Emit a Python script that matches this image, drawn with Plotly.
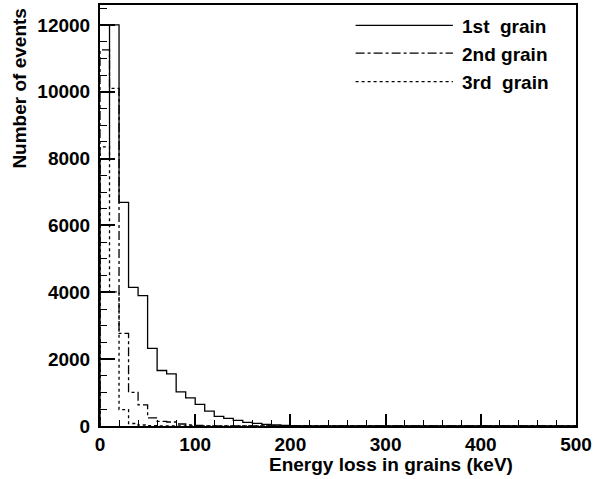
import plotly.graph_objects as go

# Histogram binning (keV)
bin_width = 10
n_bins = 50
edges = [i * bin_width for i in range(n_bins + 1)]

# Counts per 10 keV bin
grain1 = [8000, 12000, 6690, 4150, 3900, 2320, 1660, 1560, 1020, 840,
          645, 445, 290, 230, 170, 110, 80, 50, 30, 15, 8, 4]
grain2 = [11250, 10100, 2770, 1005, 630, 245, 140, 120, 60, 30, 15, 6]
grain3 = [8350, 4010, 490, 75, 30, 10]

series_names = ["1st\u00a0 grain", "2nd grain", "3rd\u00a0 grain"]
series_dash = ["solid", "dashdot", "dot"]
x_ticks = [0, 100, 200, 300, 400, 500]
y_ticks = [0, 2000, 4000, 6000, 8000, 10000, 12000]


def pad(v):
    return v + [0] * (n_bins - len(v))


def step_xy(counts):
    c = pad(counts)
    xs = [edges[0]] + edges
    ys = [0] + c + [c[-1]]
    return xs, ys


fig = go.Figure()
for vals, name, dash in zip([grain1, grain2, grain3], series_names, series_dash):
    xs, ys = step_xy(vals)
    fig.add_trace(go.Scatter(
        x=xs, y=ys, mode="lines", line_shape="hv",
        line=dict(color="black", width=1.3, dash=dash),
        name=name, showlegend=False, hoverinfo="skip"))

FONT = "Liberation Sans, Arial, Helvetica, sans-serif"
FS = 19

# manual legend (no box), ROOT style
leg_y_px = [23.5, 51.5, 80]
plot_l, plot_r, plot_t, plot_b = 99.5, 579.0, 3.0, 426.5
W, H = plot_r - plot_l, plot_b - plot_t


def px_to_paper(xp, yp):
    return (xp - plot_l) / W, (plot_b - yp) / H


for name, dash, yp in zip(series_names, series_dash, leg_y_px):
    x0, y0 = px_to_paper(357, yp)
    x1, _ = px_to_paper(455, yp)
    fig.add_shape(type="line", xref="paper", yref="paper", x0=x0, x1=x1, y0=y0, y1=y0,
                  line=dict(color="black", width=1.3, dash=dash))
    tx, ty = px_to_paper(462, yp + 1)
    fig.add_annotation(x=tx, y=ty, xref="paper", yref="paper", text="<b>" + name + "</b>",
                       showarrow=False, xanchor="left", yanchor="middle",
                       font=dict(family=FONT, size=FS, color="black"))

# axis titles
ax, ay = px_to_paper(392.5, 465)
fig.add_annotation(x=ax, y=ay, xref="paper", yref="paper",
                   text="<b>Energy loss in grains (keV)</b>", showarrow=False,
                   xanchor="center", yanchor="middle",
                   font=dict(family=FONT, size=FS, color="black"))
bx, by = px_to_paper(18, 87)
fig.add_annotation(x=bx, y=by, xref="paper", yref="paper",
                   text="<b>Number of events</b>", showarrow=False, textangle=-90,
                   xanchor="center", yanchor="middle",
                   font=dict(family=FONT, size=FS, color="black"))

fig.update_layout(
    width=595, height=479,
    margin=dict(l=plot_l, r=595 - plot_r, t=plot_t, b=479 - plot_b, pad=0),
    paper_bgcolor="white", plot_bgcolor="white",
    font=dict(family=FONT, size=FS, color="black"),
    showlegend=False,
)
fig.update_xaxes(
    range=[0, 500], tickvals=x_ticks, ticktext=[f"<b>{v}</b>" for v in x_ticks],
    ticks="inside", ticklen=12, tickwidth=1.5, tickcolor="black",
    minor=dict(dtick=20, ticks="inside", ticklen=6, tickwidth=1.2, tickcolor="black", showgrid=False),
    showline=True, linecolor="black", linewidth=2, mirror=True,
    showgrid=False, zeroline=False, ticklabelstandoff=0,
    tickfont=dict(family=FONT, size=FS, color="black"),
)
fig.update_yaxes(
    range=[0, 12595], tickvals=y_ticks, ticktext=[f"<b>{v}</b>" for v in y_ticks],
    ticks="inside", ticklen=15, tickwidth=1.5, tickcolor="black",
    minor=dict(dtick=500, ticks="inside", ticklen=7, tickwidth=1.2, tickcolor="black", showgrid=False),
    showline=True, linecolor="black", linewidth=2, mirror=True,
    showgrid=False, zeroline=False, ticklabelstandoff=4,
    tickfont=dict(family=FONT, size=FS, color="black"),
)

fig.write_html("out.html")
